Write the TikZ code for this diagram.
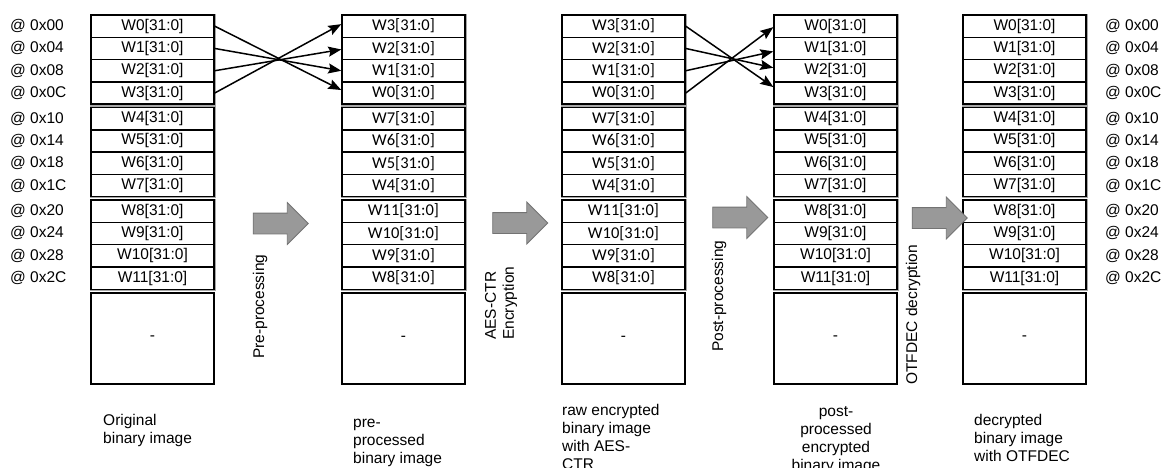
\documentclass[tikz,border=0pt]{standalone}
\usepackage{fontspec}
\setmainfont{Liberation Sans}
\newfontfamily\calibri{Carlito}
\usetikzlibrary{arrows.meta,shapes.arrows}
\newcommand\arialtxt{\fontsize{15.5}{18}\selectfont}
\newcommand\calitxt{\calibri\fontsize{16.5}{18}\selectfont}

\begin{document}
\begin{tikzpicture}[
            x=1pt, y=-1pt,
            every node/.style={inner sep=0pt, font=\arialtxt},
            word/.style={draw, line width=1.4pt, minimum width=123pt, minimum height=22.3pt},
            blank/.style={draw, line width=1.4pt, minimum width=123pt, minimum height=91pt},
            grpframe/.style={draw=black!35, line width=0.6pt},
            addr/.style={anchor=west},
            caption/.style={anchor=north west, align=left, execute at begin node=\strut},
            steplabel/.style={rotate=90, anchor=west, align=left},
            bigarrow/.style={single arrow, draw=black!55, fill=black!40, line width=0.8pt,
                minimum height=55pt, inner xsep=0pt, inner ysep=10pt,
                single arrow head extend=10.5pt},
            swap/.style={-{Stealth[length=13pt,width=10pt,inset=2pt]}, line width=1.5pt},
            ]
            \useasboundingbox (0,0) rectangle (1166,468);
            % the five memory columns
            \foreach \col/\x/\ff/\order in {1/91/\arialtxt/{0,1,2,3,4,5,6,7,8,9,10,11},
                    2/342/\calitxt/{3,2,1,0,7,6,5,4,11,10,9,8},
                    3/562/\calitxt/{3,2,1,0,7,6,5,4,11,10,9,8},
                    4/774/\arialtxt/{0,1,2,3,4,5,6,7,8,9,10,11},
                    5/963/\arialtxt/{0,1,2,3,4,5,6,7,8,9,10,11}} {
                \foreach \g in {0,1,2}
                    \draw[grpframe] (\x-1, 15+92.5*\g-1) rectangle ++(125, 91.2);
                \foreach \w [count=\row from 0] in \order {
                    \pgfmathsetmacro\yy{15+92.5*int(\row/4)+22.3*mod(\row,4)+11.15}
                    \node[word, font=\ff] (c\col r\row) at (\x+61.5, \yy) {W\w[31:0]};
                }
                \node[blank, font=\ff] (c\col b) at (\x+61.5, 338.5) {-};
            }
            % addresses
            \foreach \a [count=\row from 0] in {00,04,08,0C,10,14,18,1C,20,24,28,2C} {
                \node[addr] (al\row) at (10,0 |- c1r\row) {@ 0x\a};
                \node[addr] (ar\row) at (1105,0 |- c5r\row) {@ 0x\a};
            }
            % word swaps
            \foreach \row/\sa/\sb [evaluate=\row as \tgt using int(3-\row)] in {0/3/6, 1/0/3, 2/-1/-3, 3/2/-1} {
                \draw[swap] (c1r\row.east) -- ([yshift=\sa pt]c2r\tgt.west);
                \draw[swap] (c3r\row.east) -- ([yshift=\sb pt]c4r\tgt.west);
            }
            % processing steps
            \node[bigarrow] (a12) at (275.5,223.5) {};
            \node[bigarrow] (a23) at (515,223) {};
            \node[bigarrow] (a34) at (735,217.5) {};
            \node[bigarrow] (a45) at (934.5,218) {};
            \node[steplabel] (tpre) at (260,359) {Pre-processing};
            \node[steplabel] (taes) at (501,340) {AES-CTR\\Encryption};
            \node[steplabel] (tpost) at (719,352) {Post-processing};
            \node[steplabel] (totf) at (913,385) {OTFDEC decryption};
            % captions
            \node[caption] (cap1) at (103,414.4) {Original\\binary image};
            \node[caption] (cap2) at (353,419.4) {pre-\\processed\\binary image};
            \node[caption] (cap3) at (562,404.4) {raw encrypted\\binary image\\with AES-\\CTR};
            \node[caption, anchor=north, align=center] (cap4) at (836,406.4) {post-\\processed\\encrypted\\binary image};
            \node[caption] (cap5) at (974,413.7) {decrypted\\binary image\\with OTFDEC};
        \end{tikzpicture}
\end{document}
